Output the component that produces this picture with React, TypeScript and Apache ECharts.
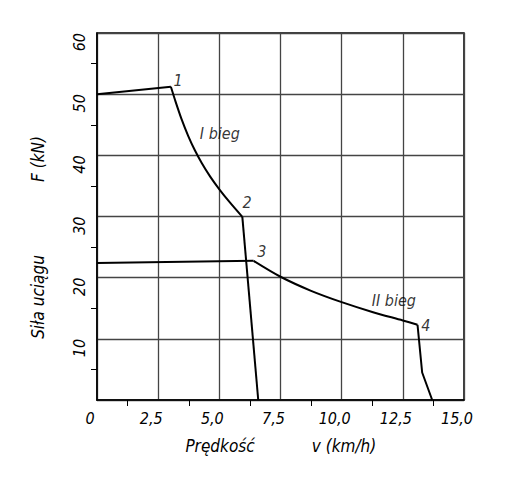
import React, { useEffect, useRef } from 'react';
import * as echarts from 'echarts';

const xTickValues = [0, 2.5, 5, 7.5, 10, 12.5, 15];
const xTickLabels = ['0', '2,5', '5,0', '7,5', '10,0', '12,5', '15,0'];
const yTickValues = [0, 10, 20, 30, 40, 50, 60];
const yTickLabels = ['', '10', '20', '30', '40', '50', '60'];

const gearIFlat = [[0, 50], [3.02, 51.2]];
const gearICurve = [[3.02, 51.2], [3.19, 49.04], [3.46, 45.87], [3.73, 43.15], [4.0, 40.83], [4.28, 38.75], [4.62, 36.56], [5.0, 34.44], [5.43, 32.3], [5.94, 29.95]];
const gearIDrop = [[5.94, 29.95], [6.59, 0]];
const gearIIFlat = [[0, 22.4], [6.4, 22.75]];
const gearIICurve = [[6.4, 22.75], [7.5, 20.15], [8.75, 17.85], [10.0, 16.0], [11.25, 14.4], [12.5, 13.0], [13.1, 12.3]];
const gearIIDrop = [[13.1, 12.3], [13.29, 4.5], [13.7, 0]];

const annotationTexts = ['1', 'I bieg', '2', '3', 'II bieg', '4'];
const annotationX = [3.31, 5.02, 6.13, 6.74, 12.13, 13.44];
const annotationY = [52.3, 43.6, 32.3, 24.2, 16.2, 12.1];

const xTitleParts = ['Prędkość', 'v (km/h)'];
const yTitleParts = ['Siła uciągu', 'F (kN)'];

const FONT = '"DejaVu Sans Condensed", "DejaVu Sans", sans-serif';

function lineSeries(data: number[][], smooth: boolean | number) {
  return {
    type: 'line',
    data,
    smooth,
    symbol: 'none',
    lineStyle: { color: '#000', width: 2 },
    z: 5,
  };
}

export default function App() {
  const ref = useRef<HTMLDivElement>(null);
  useEffect(() => {
    if (!ref.current) return;
    const chart = echarts.init(ref.current, null, { renderer: 'svg' });
    const gridColor = '#444';
    const textStyle = { fontFamily: FONT, fontStyle: 'italic', color: '#000' };
    const titleStyle = { fontFamily: FONT, fontStyle: 'italic', fontSize: 17, fill: '#000', align: 'center', verticalAlign: 'middle' };
    chart.setOption({
      animation: false,
      backgroundColor: '#fff',
      grid: {
        left: 97,
        top: 33,
        right: 62,
        bottom: 80,
        show: true,
        borderColor: '#000',
        borderWidth: 1.5,
        backgroundColor: 'transparent',
      },
      xAxis: {
        type: 'value',
        min: 0,
        max: 15,
        interval: 2.5,
        axisLine: { show: true, lineStyle: { color: '#000', width: 1.5 } },
        axisTick: { show: false },
        minorTick: { show: true, splitNumber: 2, length: 6, lineStyle: { color: '#000', width: 1 } },
        splitLine: { show: true, lineStyle: { color: gridColor, width: 1.3 } },
        axisLabel: {
          ...textStyle,
          fontSize: 16,
          margin: 10,
          padding: [0, 14, 0, 0],
          formatter: (v: number) => {
            const i = xTickValues.findIndex((t) => Math.abs(t - v) < 1e-6);
            return i >= 0 ? xTickLabels[i] : '';
          },
        },
      },
      yAxis: {
        type: 'value',
        min: 0,
        max: 60,
        interval: 10,
        axisLine: { show: true, lineStyle: { color: '#000', width: 1.5 } },
        axisTick: { show: false },
        minorTick: { show: true, splitNumber: 2, length: 6, lineStyle: { color: '#000', width: 1 } },
        splitLine: { show: true, lineStyle: { color: gridColor, width: 1.3 } },
        axisLabel: {
          ...textStyle,
          fontSize: 16,
          rotate: 90,
          margin: 18,
          align: 'right',
          verticalAlign: 'middle',
          formatter: (v: number) => {
            const i = yTickValues.findIndex((t) => Math.abs(t - v) < 1e-6);
            return i >= 0 ? yTickLabels[i] : '';
          },
        },
      },
      graphic: [
        { type: 'text', x: 220, y: 446, style: { ...titleStyle, text: xTitleParts[0] } },
        { type: 'text', x: 344, y: 446, style: { ...titleStyle, text: xTitleParts[1] } },
        { type: 'text', x: 38, y: 297, rotation: Math.PI / 2, style: { ...titleStyle, text: yTitleParts[0] } },
        { type: 'text', x: 38, y: 159, rotation: Math.PI / 2, style: { ...titleStyle, text: yTitleParts[1] } },
      ],
      series: [
        lineSeries(gearIFlat, false),
        lineSeries(gearICurve, 0.3),
        lineSeries(gearIDrop, false),
        lineSeries(gearIIFlat, false),
        lineSeries(gearIICurve, 0.3),
        lineSeries(gearIIDrop, false),
        {
          type: 'scatter',
          symbolSize: 1,
          itemStyle: { color: 'rgba(0,0,0,0)' },
          z: 6,
          data: annotationTexts.map((t, i) => ({ name: t, value: [annotationX[i], annotationY[i]] })),
          label: {
            show: true,
            position: 'inside',
            formatter: (p: any) => p.name,
            fontFamily: FONT,
            fontStyle: 'italic',
            fontSize: 16,
            color: '#000',
          },
        },
      ],
    });
    return () => chart.dispose();
  }, []);
  return <div ref={ref} style={{ width: 526, height: 480, position: 'absolute', left: 0, top: 0 }} />;
}
